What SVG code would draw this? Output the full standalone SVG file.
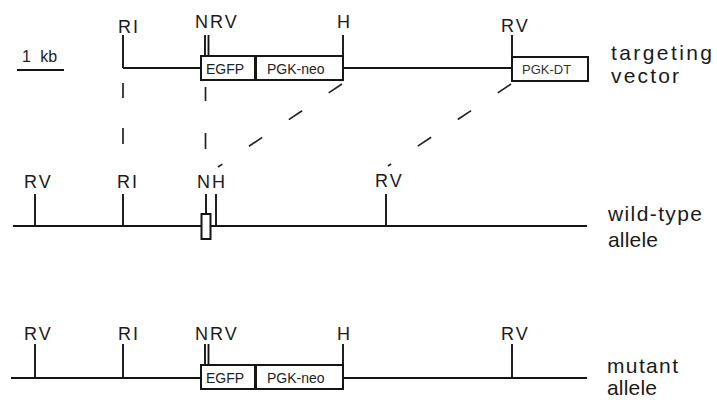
<svg xmlns="http://www.w3.org/2000/svg" width="717" height="400" viewBox="0 0 717 400">
<style>
.ln{stroke:#151515;stroke-width:2.2;fill:none}
.tk{stroke:#151515;stroke-width:1.9;fill:none}
.bx{stroke:#151515;stroke-width:2;fill:#fff}
.ds{stroke:#222;stroke-width:1.7;fill:none}
.lb{font-family:"Liberation Sans",Arial,sans-serif;font-size:18px;fill:#1a1a1a;letter-spacing:2px}
.bt{font-family:"Liberation Sans",Arial,sans-serif;font-size:14px;fill:#222}
.rt{font-family:"Liberation Sans",Arial,sans-serif;font-size:21px;fill:#1a1a1a}
</style>
<rect width="717" height="400" fill="#fff"/>

<g id="scale">
<text class="bt" x="22" y="62" style="font-size:16px" word-spacing="5">1 kb</text>
<line class="ln" x1="17" y1="70" x2="64" y2="70"/>
</g>

<g id="targeting-vector">
<line class="ln" x1="123" y1="68" x2="201" y2="68"/>
<line class="ln" x1="343" y1="68" x2="512" y2="68"/>
<line class="tk" x1="123" y1="35" x2="123" y2="68"/>
<line class="tk" x1="205" y1="35" x2="205" y2="56"/>
<line class="tk" x1="208.5" y1="35" x2="208.5" y2="56"/>
<line class="tk" x1="343" y1="35" x2="343" y2="56"/>
<line class="tk" x1="512" y1="35" x2="512" y2="57"/>
<rect class="bx" x="201" y="56" width="54" height="24"/>
<rect class="bx" x="256" y="56" width="87" height="24"/>
<rect class="bx" x="512" y="57" width="76" height="24"/>
<text class="bt" x="206" y="74">EGFP</text>
<text class="bt" x="267" y="74">PGK-neo</text>
<text class="bt" x="522" y="74" style="font-size:13px;fill:#333">PGK-DT</text>
<text class="lb" x="118" y="33">RI</text>
<text class="lb" x="195" y="28">NRV</text>
<text class="lb" x="337" y="28">H</text>
<text class="lb" x="501" y="32">RV</text>
<text class="rt" x="611" y="60" textLength="101" lengthAdjust="spacing">targeting</text>
<text class="rt" x="611" y="83" textLength="68" lengthAdjust="spacing">vector</text>
</g>

<g id="wild-type-allele">
<line class="ln" x1="13" y1="226" x2="587" y2="226"/>
<line class="tk" x1="35" y1="194" x2="35" y2="226"/>
<line class="tk" x1="123" y1="194" x2="123" y2="226"/>
<line class="tk" x1="206" y1="194" x2="206" y2="214"/>
<line class="tk" x1="216" y1="194" x2="216" y2="226"/>
<line class="tk" x1="386" y1="194" x2="386" y2="226"/>
<rect class="bx" x="201.5" y="214" width="9" height="25"/>
<text class="lb" x="24" y="188">RV</text>
<text class="lb" x="117" y="188">RI</text>
<text class="lb" x="197" y="188" letter-spacing="1">NH</text>
<text class="lb" x="375" y="187">RV</text>
<text class="rt" x="608" y="221" textLength="94" lengthAdjust="spacing">wild-type</text>
<text class="rt" x="608" y="247" textLength="50" lengthAdjust="spacing">allele</text>
</g>

<g id="mutant-allele">
<line class="ln" x1="11" y1="378" x2="201" y2="378"/>
<line class="ln" x1="343" y1="378" x2="587" y2="378"/>
<line class="tk" x1="35" y1="344" x2="35" y2="378"/>
<line class="tk" x1="123" y1="344" x2="123" y2="378"/>
<line class="tk" x1="205" y1="344" x2="205" y2="365"/>
<line class="tk" x1="208.5" y1="344" x2="208.5" y2="365"/>
<line class="tk" x1="343" y1="344" x2="343" y2="365"/>
<line class="tk" x1="512" y1="344" x2="512" y2="378"/>
<rect class="bx" x="201" y="365" width="54" height="24"/>
<rect class="bx" x="256" y="365" width="87" height="24"/>
<text class="bt" x="206" y="383">EGFP</text>
<text class="bt" x="267" y="383">PGK-neo</text>
<text class="lb" x="24" y="340">RV</text>
<text class="lb" x="118" y="340">RI</text>
<text class="lb" x="195" y="340">NRV</text>
<text class="lb" x="337" y="340">H</text>
<text class="lb" x="501" y="340">RV</text>
<text class="rt" x="607" y="373" textLength="71" lengthAdjust="spacing">mutant</text>
<text class="rt" x="607" y="395" textLength="50" lengthAdjust="spacing">allele</text>
</g>

<g id="connectors">
<line class="ds" x1="123" y1="83" x2="123" y2="98"/>
<line class="ds" x1="123" y1="128" x2="123" y2="144"/>
<line class="ds" x1="205.5" y1="87" x2="205.5" y2="101"/>
<line class="ds" x1="205.5" y1="133" x2="205.5" y2="149"/>
<line class="ds" x1="342" y1="84" x2="218" y2="167" stroke-dasharray="16 32"/>
<line class="ds" x1="511" y1="84" x2="388" y2="166" stroke-dasharray="16 32"/>
</g>
</svg>
